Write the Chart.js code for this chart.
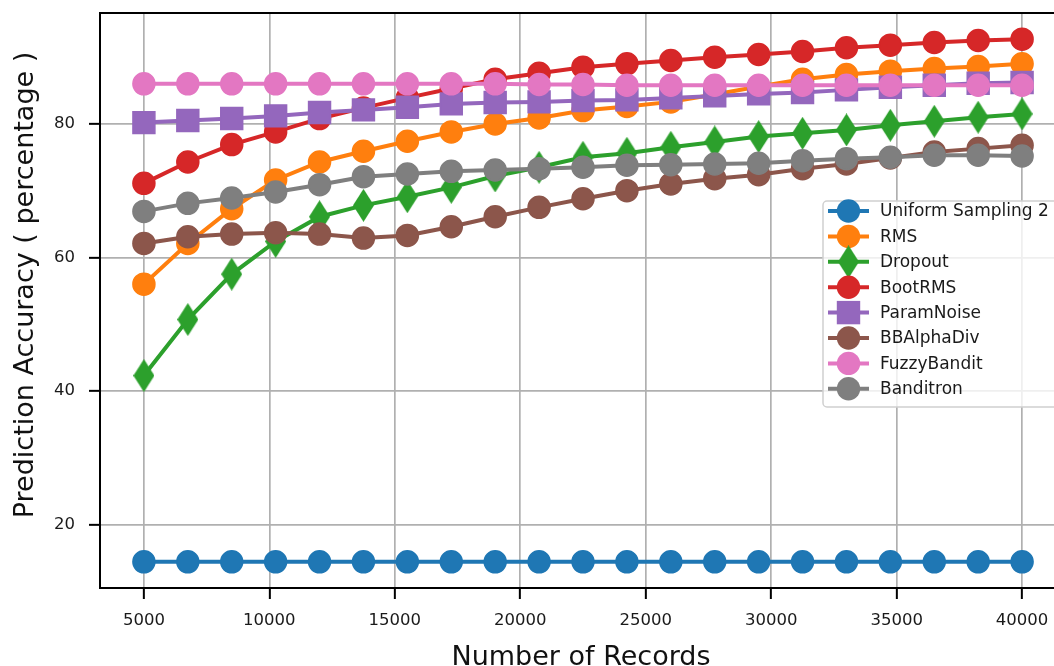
<!DOCTYPE html>
<html>
<head>
<meta charset="utf-8">
<script src="https://cdn.jsdelivr.net/npm/chart.js@4"></script>
<style>
  html, body { margin: 0; padding: 0; background: #fff; overflow: hidden; }
  canvas { display: block; }
</style>
</head>
<body>
<canvas id="chart" width="1054" height="666"></canvas>
<script>
// Number of records seen by each method
const records = [5000, 6750, 8500, 10250, 12000, 13750, 15500, 17250, 19000, 20750,
                 22500, 24250, 26000, 27750, 29500, 31250, 33000, 34750, 36500, 38250, 40000];

// Prediction accuracy (percentage) per method
const uniformSampling2 = [14.4, 14.4, 14.4, 14.4, 14.4, 14.4, 14.4, 14.4, 14.4, 14.4,
                          14.4, 14.4, 14.4, 14.4, 14.4, 14.4, 14.4, 14.4, 14.4, 14.4, 14.4];
const rms = [56.0, 62.1, 67.3, 71.6, 74.3, 75.9, 77.4, 78.8, 80.0, 80.9,
             82.0, 82.6, 83.3, 84.4, 85.6, 86.7, 87.4, 87.9, 88.3, 88.6, 89.0];
const dropout = [42.3, 50.7, 57.5, 62.4, 66.1, 67.8, 69.1, 70.5, 72.2, 73.5,
                 75.0, 75.6, 76.5, 77.3, 78.1, 78.6, 79.1, 79.8, 80.4, 81.0, 81.5];
const bootRms = [71.1, 74.3, 76.9, 78.8, 80.8, 82.4, 83.9, 85.3, 86.7, 87.6,
                 88.5, 89.0, 89.5, 90.0, 90.4, 90.85, 91.4, 91.8, 92.2, 92.5, 92.7];
const paramNoise = [80.2, 80.5, 80.8, 81.2, 81.7, 82.1, 82.5, 83.0, 83.2, 83.3,
                    83.5, 83.6, 83.9, 84.2, 84.5, 84.7, 85.1, 85.5, 85.8, 86.1, 86.2];
const bbAlphaDiv = [62.1, 63.1, 63.5, 63.7, 63.5, 62.9, 63.3, 64.6, 66.1, 67.5,
                    68.8, 70.0, 71.0, 71.8, 72.4, 73.3, 74.0, 74.9, 75.8, 76.3, 76.8];
const fuzzyBandit = [86.0, 86.0, 86.0, 86.0, 86.0, 86.0, 86.0, 86.0, 86.0, 85.9,
                     85.9, 85.8, 85.8, 85.8, 85.8, 85.8, 85.8, 85.8, 85.8, 85.8, 85.8];
const banditron = [66.9, 68.1, 68.9, 69.8, 70.9, 72.1, 72.5, 72.9, 73.1, 73.3,
                   73.5, 73.8, 73.9, 74.0, 74.1, 74.5, 74.8, 75.0, 75.3, 75.3, 75.2];

// Tick positions
const xTicks = [5000, 10000, 15000, 20000, 25000, 30000, 35000, 40000];
const yTicks = [20, 40, 60, 80];

const FONT = '"DejaVu Sans", "Liberation Sans", sans-serif';

const series = [
  { label: 'Uniform Sampling 2', values: uniformSampling2, color: '#1f77b4', marker: 'circle' },
  { label: 'RMS',                values: rms,              color: '#ff7f0e', marker: 'circle' },
  { label: 'Dropout',            values: dropout,          color: '#2ca02c', marker: 'diamond' },
  { label: 'BootRMS',            values: bootRms,          color: '#d62728', marker: 'circle' },
  { label: 'ParamNoise',         values: paramNoise,       color: '#9467bd', marker: 'square' },
  { label: 'BBAlphaDiv',         values: bbAlphaDiv,       color: '#8c564b', marker: 'circle' },
  { label: 'FuzzyBandit',        values: fuzzyBandit,      color: '#e377c2', marker: 'circle' },
  { label: 'Banditron',          values: banditron,        color: '#7f7f7f', marker: 'circle' }
];

// Tall, narrow diamond marker
function thinDiamond(color) {
  const c = document.createElement('canvas');
  c.width = 21; c.height = 33;
  const g = c.getContext('2d');
  g.fillStyle = color;
  g.beginPath();
  g.moveTo(10.5, 0); g.lineTo(21, 16.5); g.lineTo(10.5, 33); g.lineTo(0, 16.5);
  g.closePath();
  g.fill();
  return c;
}

function markerStyle(s) {
  if (s.marker === 'diamond') return { style: thinDiamond(s.color), radius: 11 };
  if (s.marker === 'square') return { style: 'rect', radius: 15.5 };
  return { style: 'circle', radius: 11 };
}

// Axis limits: 5% margin around the data. The full plot box is 966 px wide
// (left edge at 100 px) but the page only shows it up to 1054 px.
const PLOT_LEFT = 100, PLOT_FULL_W = 966, PAGE_W = 1054;
const allY = series.flatMap(s => s.values);
const yLo = Math.min(...allY), yHi = Math.max(...allY);
const xLo = Math.min(...records), xHi = Math.max(...records);
const yPad = (yHi - yLo) * 0.05, xPad = (xHi - xLo) * 0.05;
const xMin = xLo - xPad;
const xFullMax = xHi + xPad;
const xMax = xMin + (xFullMax - xMin) * (PAGE_W - PLOT_LEFT) / PLOT_FULL_W;

const LINE_W = 4;

const datasets = series.map((s, i) => {
  const m = markerStyle(s);
  return {
    label: s.label,
    data: records.map((x, j) => ({ x: x, y: s.values[j] })),
    borderColor: s.color,
    backgroundColor: s.color,
    borderWidth: LINE_W,
    tension: 0,
    pointStyle: m.style,
    pointRadius: m.radius,
    pointHoverRadius: m.radius,
    pointBorderWidth: 1.5,
    pointBorderColor: s.color,
    pointBackgroundColor: s.color,
    clip: false,
    order: series.length - i
  };
});

// Top frame line, in-plot legend and axis titles
const decorations = {
  id: 'decorations',
  afterDatasetsDraw(chart) {
    const ctx = chart.ctx;
    const a = chart.chartArea;
    ctx.save();
    ctx.strokeStyle = '#000';
    ctx.lineWidth = 2;
    ctx.beginPath();
    ctx.moveTo(a.left - 1, a.top);
    ctx.lineTo(a.right + 20, a.top);
    ctx.stroke();

    // legend box (continues past the right edge of the page)
    const bx = 823, by = 201, bw = 280, bh = 206, r = 4;
    ctx.beginPath();
    ctx.moveTo(bx + r, by);
    ctx.lineTo(bx + bw - r, by);
    ctx.arcTo(bx + bw, by, bx + bw, by + r, r);
    ctx.lineTo(bx + bw, by + bh - r);
    ctx.arcTo(bx + bw, by + bh, bx + bw - r, by + bh, r);
    ctx.lineTo(bx + r, by + bh);
    ctx.arcTo(bx, by + bh, bx, by + bh - r, r);
    ctx.lineTo(bx, by + r);
    ctx.arcTo(bx, by, bx + r, by, r);
    ctx.closePath();
    ctx.fillStyle = 'rgba(255,255,255,0.8)';
    ctx.fill();
    ctx.strokeStyle = '#d0d0d0';
    ctx.lineWidth = 1.5;
    ctx.stroke();

    chart.data.datasets.forEach((ds, i) => {
      const s = series[i];
      const cy = 211 + i * 25.4;
      const mx = 848.5;
      ctx.strokeStyle = ds.borderColor;
      ctx.lineWidth = LINE_W;
      ctx.beginPath();
      ctx.moveTo(828, cy);
      ctx.lineTo(869, cy);
      ctx.stroke();
      ctx.fillStyle = ds.borderColor;
      if (s.marker === 'diamond') {
        ctx.drawImage(ds.pointStyle, mx - 10.5, cy - 16.5);
      } else if (s.marker === 'square') {
        ctx.fillRect(mx - 11.7, cy - 11.7, 23.4, 23.4);
      } else {
        ctx.beginPath();
        ctx.arc(mx, cy, 11.7, 0, Math.PI * 2);
        ctx.fill();
      }
      ctx.fillStyle = '#1a1a1a';
      ctx.font = '17px ' + FONT;
      ctx.textAlign = 'left';
      ctx.textBaseline = 'middle';
      ctx.fillText(ds.label, 880, cy + 1);
    });
    ctx.restore();
  },
  afterDraw(chart) {
    const ctx = chart.ctx;
    ctx.save();
    ctx.fillStyle = '#111';
    ctx.font = '27px ' + FONT;
    ctx.textAlign = 'center';
    ctx.textBaseline = 'alphabetic';
    ctx.fillText('Number of Records', 581, 665);
    ctx.translate(33, 285);
    ctx.rotate(-Math.PI / 2);
    ctx.fillText('Prediction Accuracy ( percentage )', 0, 0);
    ctx.restore();
  }
};

const gridOpts = {
  color: '#b0b0b0',
  lineWidth: 1.7,
  drawTicks: true,
  tickLength: 11,
  tickColor: '#000',
  tickWidth: 2
};

new Chart(document.getElementById('chart'), {
  type: 'line',
  data: { datasets: datasets },
  options: {
    responsive: false,
    animation: false,
    devicePixelRatio: 1,
    layout: { autoPadding: false, padding: { top: 13, right: 0, left: 0, bottom: 0 } },
    plugins: { legend: { display: false }, tooltip: { enabled: false } },
    scales: {
      x: {
        type: 'linear',
        min: xMin,
        max: xMax,
        afterBuildTicks: sc => { sc.ticks = xTicks.map(v => ({ value: v })); },
        afterFit: sc => { sc.height = 78; sc.paddingLeft = 0; sc.paddingRight = 0; },
        grid: gridOpts,
        border: { color: '#000', width: 2 },
        ticks: {
          autoSkip: false, maxRotation: 0, padding: 12,
          color: '#1a1a1a',
          font: { family: FONT, size: 16.5 },
          callback: v => String(v)
        }
      },
      y: {
        type: 'linear',
        min: yLo - yPad,
        max: yHi + yPad,
        afterBuildTicks: sc => { sc.ticks = yTicks.map(v => ({ value: v })); },
        afterFit: sc => { sc.width = PLOT_LEFT; sc.paddingTop = 0; sc.paddingBottom = 0; },
        grid: gridOpts,
        border: { color: '#000', width: 2 },
        ticks: {
          padding: 14,
          color: '#1a1a1a',
          font: { family: FONT, size: 16.5 },
          callback: v => String(v)
        }
      }
    }
  },
  plugins: [decorations]
});
</script>
</body>
</html>
